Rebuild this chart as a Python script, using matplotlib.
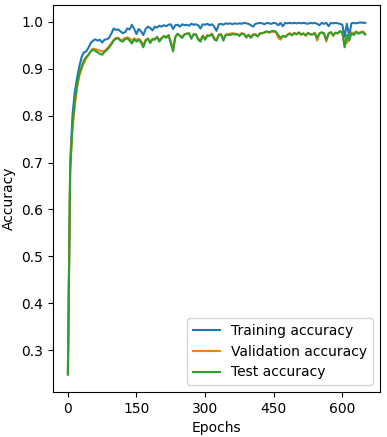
import matplotlib
matplotlib.use("Agg")
import matplotlib.pyplot as plt
import numpy as np

epochs = list(range(0, 651, 5))

train_acc = [
    0.248, 0.70, 0.80, 0.85, 0.88, 0.905, 0.925, 0.935, 0.937, 0.945,
    0.955, 0.960, 0.963, 0.960, 0.962, 0.956, 0.962, 0.963, 0.966, 0.975,
    0.986, 0.983, 0.984, 0.980, 0.976, 0.978, 0.986, 0.984, 0.994, 0.985,
    0.974, 0.985, 0.980, 0.972, 0.985, 0.990, 0.987, 0.982, 0.990, 0.988,
    0.992, 0.990, 0.993, 0.991, 0.994, 0.995, 0.985, 0.993, 0.994, 0.990,
    0.995, 0.993, 0.994, 0.992, 0.996, 0.994, 0.995, 0.993, 0.986, 0.995,
    0.994, 0.996, 0.993, 0.995, 0.990, 0.981, 0.995, 0.996, 0.994, 0.997,
    0.996, 0.997, 0.995, 0.997, 0.996, 0.997, 0.996, 0.998, 0.997, 0.996,
    0.993, 0.990, 0.996, 0.997, 0.998, 0.997, 0.995, 0.998, 0.997, 0.996,
    0.998, 0.997, 0.993, 0.998, 0.991, 0.998, 0.997, 0.998, 0.997, 0.998,
    0.997, 0.998, 0.997, 0.998, 0.997, 0.996, 0.998, 0.997, 0.998, 0.996,
    0.993, 0.998, 0.996, 0.998, 0.991, 0.998, 0.997, 0.998, 0.997, 0.996,
    0.994, 0.968, 0.996, 0.970, 0.997, 0.998, 0.997, 0.998, 0.999, 0.998,
    0.998,
]

val_acc = [
    0.250, 0.69, 0.77, 0.82, 0.86, 0.885, 0.900, 0.912, 0.922, 0.930,
    0.938, 0.943, 0.942, 0.940, 0.939, 0.937, 0.938, 0.943, 0.948, 0.955,
    0.962, 0.966, 0.966, 0.962, 0.962, 0.966, 0.967, 0.965, 0.960, 0.965,
    0.962, 0.964, 0.960, 0.950, 0.962, 0.965, 0.958, 0.964, 0.964, 0.968,
    0.962, 0.966, 0.970, 0.968, 0.972, 0.958, 0.945, 0.968, 0.974, 0.971,
    0.968, 0.974, 0.975, 0.975, 0.966, 0.973, 0.974, 0.964, 0.962, 0.971,
    0.965, 0.972, 0.971, 0.975, 0.966, 0.962, 0.973, 0.974, 0.963, 0.973,
    0.974, 0.975, 0.976, 0.975, 0.974, 0.972, 0.976, 0.975, 0.966, 0.973,
    0.968, 0.974, 0.974, 0.970, 0.976, 0.976, 0.977, 0.979, 0.977, 0.979,
    0.979, 0.978, 0.966, 0.962, 0.971, 0.968, 0.973, 0.976, 0.971, 0.977,
    0.973, 0.978, 0.972, 0.976, 0.970, 0.977, 0.973, 0.974, 0.977, 0.960,
    0.976, 0.977, 0.974, 0.958, 0.976, 0.978, 0.970, 0.977, 0.975, 0.981,
    0.976, 0.952, 0.955, 0.965, 0.978, 0.975, 0.980, 0.977, 0.978, 0.980,
    0.975,
]

test_acc = [
    0.248, 0.68, 0.78, 0.83, 0.865, 0.890, 0.905, 0.918, 0.925, 0.930,
    0.937, 0.941, 0.938, 0.935, 0.932, 0.930, 0.936, 0.940, 0.945, 0.952,
    0.960, 0.964, 0.965, 0.960, 0.958, 0.963, 0.965, 0.960, 0.954, 0.963,
    0.958, 0.962, 0.956, 0.946, 0.960, 0.964, 0.955, 0.963, 0.962, 0.968,
    0.958, 0.965, 0.970, 0.966, 0.972, 0.955, 0.937, 0.968, 0.975, 0.970,
    0.966, 0.973, 0.975, 0.976, 0.964, 0.974, 0.973, 0.962, 0.958, 0.970,
    0.962, 0.971, 0.970, 0.974, 0.963, 0.960, 0.972, 0.973, 0.960, 0.972,
    0.973, 0.972, 0.974, 0.973, 0.974, 0.970, 0.975, 0.974, 0.968, 0.972,
    0.966, 0.972, 0.973, 0.969, 0.975, 0.976, 0.978, 0.980, 0.978, 0.980,
    0.981, 0.979, 0.972, 0.966, 0.970, 0.968, 0.972, 0.975, 0.972, 0.976,
    0.974, 0.977, 0.974, 0.975, 0.972, 0.976, 0.974, 0.973, 0.976, 0.966,
    0.975, 0.978, 0.976, 0.962, 0.975, 0.978, 0.972, 0.977, 0.976, 0.980,
    0.978, 0.946, 0.972, 0.960, 0.976, 0.972, 0.978, 0.975, 0.977, 0.978,
    0.973,
]

x_ticks = [0, 150, 300, 450, 600]

fig = plt.figure(figsize=(3.87, 4.37), dpi=100)
ax = fig.add_axes([0.137, 0.103, 0.845, 0.886])
ax.plot(epochs, train_acc, label="Training accuracy")
ax.plot(epochs, val_acc, label="Validation accuracy")
ax.plot(epochs, test_acc, label="Test accuracy")
ax.set_xticks(x_ticks)
ax.set_xlabel("Epochs")
ax.set_ylabel("Accuracy")
ax.legend(loc="lower right")
fig.savefig("out.png", dpi=100)
